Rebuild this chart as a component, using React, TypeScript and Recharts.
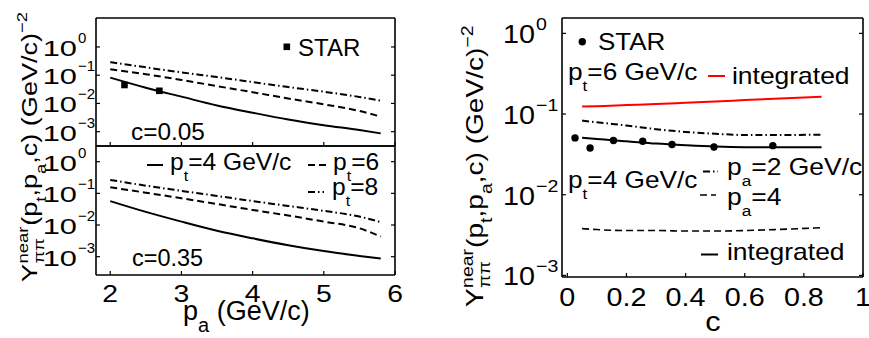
import React from "react";
import { LineChart, Line, XAxis, YAxis } from "recharts";

// Near-side pi-pi yields: two p_a panels (c = 0.05 / 0.35) and a yield vs c panel.

const PA = [2, 2.5, 3, 3.5, 4, 4.5, 5, 5.5, 5.8];
const C005_PT4 = [0.082, 0.036, 0.0174, 0.0085, 0.0047, 0.0027, 0.0017, 0.00114, 0.00087];
const C005_PT6 = [0.162, 0.108, 0.068, 0.041, 0.025, 0.015, 0.0093, 0.0054, 0.0034];
const C005_PT8 = [0.29, 0.19, 0.126, 0.086, 0.057, 0.038, 0.026, 0.017, 0.0125];
const C035_PT4 = [0.057, 0.026, 0.0128, 0.0066, 0.0038, 0.0023, 0.0015, 0.00106, 0.00087];
const C035_PT6 = [0.155, 0.105, 0.07, 0.046, 0.03, 0.02, 0.0128, 0.0079, 0.0043];
const C035_PT8 = [0.265, 0.175, 0.12, 0.083, 0.057, 0.04, 0.028, 0.0185, 0.0123];
const STAR_PA = [2.2, 2.69];
const STAR_PA_Y = [0.045, 0.028];

const C_GRID = [0.05, 0.1, 0.2, 0.3, 0.4, 0.5, 0.6, 0.7, 0.86];
const PT6_INTEGRATED = [0.124, 0.125, 0.129, 0.133, 0.138, 0.143, 0.149, 0.155, 0.164];
const PT4_PA2 = [0.083, 0.079, 0.072, 0.065, 0.06, 0.057, 0.055, 0.055, 0.0555];
const PT4_PA4 = [0.0038, 0.0037, 0.0036, 0.0036, 0.00355, 0.00355, 0.0036, 0.0037, 0.0039];
const PT4_INTEGRATED = [0.051, 0.049, 0.046, 0.043, 0.041, 0.0395, 0.0389, 0.0389, 0.0389];
const STAR_C = [0.026, 0.077, 0.156, 0.255, 0.354, 0.496, 0.695];
const STAR_C_Y = [0.0506, 0.038, 0.047, 0.046, 0.042, 0.039, 0.0406];

const PA_TICKS = [2, 3, 4, 5, 6];
const C_TICKS = [0, 0.2, 0.4, 0.6, 0.8, 1];
const C_TICK_LABELS = ["0", "0.2", "0.4", "0.6", "0.8", "1"];
const LOG_TICKS = [1, 0.1, 0.01, 0.001];

const W = 869;
const H = 338;
const FONT = '"Liberation Sans", Arial, Helvetica, sans-serif';
const TICK_LEN = 4;
const AXIS_LINE = { stroke: "#000", strokeWidth: 1.6 };
const DASH = "7 4";
const DASH_DOT = "7 3 1.5 3";

type Box = { x0: number; y0: number; x1: number; y1: number };
const BOX_A: Box = { x0: 96, y0: 18, x1: 395, y1: 146 };
const BOX_B: Box = { x0: 96, y0: 146, x1: 395, y1: 275 };
const BOX_C: Box = { x0: 562, y0: 18, x1: 863, y1: 277 };

// every axis is 1px thick, so the margin puts the plot box at page coords
const marginFor = (b: Box) => ({
  left: b.x0 - 1,
  top: b.y0 - 1,
  right: W - b.x1 - 1,
  bottom: H - b.y1 - 1,
});

const zip = (xs: number[], ys: number[]) => xs.map((x, i) => ({ x, y: ys[i] }));

const expText = (v: number) => {
  const e = Math.round(Math.log10(v));
  return e === 0 ? "0" : `\u2212${-e}`;
};

type TickProps = { x: number; y: number; payload: { value: number } };

const tickStroke = { stroke: "#000", strokeWidth: 1.2 };

const topTick = ({ x, y }: TickProps) => <line x1={x} x2={x} y1={y} y2={y + TICK_LEN} {...tickStroke} />;
const bottomTick = ({ x, y }: TickProps) => <line x1={x} x2={x} y1={y} y2={y - TICK_LEN} {...tickStroke} />;
const rightTick = ({ x, y }: TickProps) => <line x1={x} x2={x - TICK_LEN} y1={y} y2={y} {...tickStroke} />;

const paTick = ({ x, y, payload }: TickProps) => (
  <g>
    <line x1={x} x2={x} y1={y} y2={y - TICK_LEN} {...tickStroke} />
    <text transform={`translate(${x},${y + 27}) scale(1.18,1)`} textAnchor="middle" fontSize={24} fontFamily={FONT}>
      {payload.value}
    </text>
  </g>
);

const cTick = ({ x, y, payload }: TickProps) => (
  <g>
    <line x1={x} x2={x} y1={y} y2={y - TICK_LEN} {...tickStroke} />
    <text transform={`translate(${x},${y + 29}) scale(1.15,1)`} textAnchor="middle" fontSize={25} fontFamily={FONT}>
      {C_TICK_LABELS[C_TICKS.indexOf(payload.value)]}
    </text>
  </g>
);

const leftLogTick = ({ x, y, payload }: TickProps) => (
  <g>
    <line x1={x} x2={x + TICK_LEN} y1={y} y2={y} {...tickStroke} />
    <text transform={`translate(${x - 19},${y + 9}) scale(1.4,1)`} textAnchor="end" fontSize={22} fontFamily={FONT}>
      10
    </text>
    <text x={x - 18} y={y - 4} fontSize={15} fontFamily={FONT}>
      {expText(payload.value)}
    </text>
  </g>
);

const rightPanelLogTick = ({ x, y, payload }: TickProps) => (
  <g>
    <line x1={x} x2={x + TICK_LEN} y1={y} y2={y} {...tickStroke} />
    <text transform={`translate(${x - 27},${y + 10}) scale(1.15,1)`} textAnchor="end" fontSize={25} fontFamily={FONT}>
      10
    </text>
    <text transform={`translate(${x - 26},${y - 3}) scale(1.15,1)`} fontSize={17} fontFamily={FONT}>
      {expText(payload.value)}
    </text>
  </g>
);

const squareDot = ({ cx, cy, index }: any) => (
  <rect key={index} x={cx - 3.3} y={cy - 3.3} width={6.6} height={6.6} fill="#000" />
);
const roundDot = ({ cx, cy, index }: any) => <circle key={index} cx={cx} cy={cy} r={3.7} fill="#000" />;

function PaPanel({
  box,
  domain,
  pt4,
  pt6,
  pt8,
  star,
  labels,
}: {
  box: Box;
  domain: [number, number];
  pt4: number[];
  pt6: number[];
  pt8: number[];
  star?: boolean;
  labels?: boolean;
}) {
  return (
    <div style={{ position: "absolute", left: 0, top: 0 }}>
      <LineChart width={W} height={H} margin={marginFor(box)}>
        <XAxis
          type="number"
          dataKey="x"
          domain={[1.8, 6]}
          ticks={PA_TICKS}
          interval={0}
          allowDataOverflow
          height={1}
          tickSize={0}
          tickMargin={0}
          tickLine={false}
          axisLine={AXIS_LINE}
          tick={labels ? paTick : bottomTick}
        />
        <XAxis
          xAxisId="top"
          orientation="top"
          type="number"
          domain={[1.8, 6]}
          ticks={PA_TICKS}
          interval={0}
          allowDataOverflow
          height={1}
          tickSize={0}
          tickMargin={0}
          tickLine={false}
          axisLine={AXIS_LINE}
          tick={topTick}
        />
        <YAxis
          type="number"
          scale="log"
          domain={domain}
          ticks={LOG_TICKS}
          interval={0}
          allowDataOverflow
          width={1}
          tickSize={0}
          tickMargin={0}
          tickLine={false}
          axisLine={AXIS_LINE}
          tick={leftLogTick}
        />
        <YAxis
          yAxisId="right"
          orientation="right"
          type="number"
          scale="log"
          domain={domain}
          ticks={LOG_TICKS}
          interval={0}
          allowDataOverflow
          width={1}
          tickSize={0}
          tickMargin={0}
          tickLine={false}
          axisLine={AXIS_LINE}
          tick={rightTick}
        />
        <Line data={zip(PA, pt8)} dataKey="y" type="monotone" stroke="#000" strokeWidth={2} strokeDasharray={DASH_DOT} dot={false} isAnimationActive={false} />
        <Line data={zip(PA, pt6)} dataKey="y" type="monotone" stroke="#000" strokeWidth={2} strokeDasharray={DASH} dot={false} isAnimationActive={false} />
        <Line data={zip(PA, pt4)} dataKey="y" type="monotone" stroke="#000" strokeWidth={2} dot={false} isAnimationActive={false} />
        {star && (
          <Line data={zip(STAR_PA, STAR_PA_Y)} dataKey="y" stroke="none" dot={squareDot} isAnimationActive={false} />
        )}
      </LineChart>
    </div>
  );
}

function CPanel() {
  const domain: [number, number] = [9.56e-4, 1.55];
  return (
    <div style={{ position: "absolute", left: 0, top: 0 }}>
      <LineChart width={W} height={H} margin={marginFor(BOX_C)}>
        <XAxis
          type="number"
          dataKey="x"
          domain={[-0.018, 1]}
          ticks={C_TICKS}
          interval={0}
          allowDataOverflow
          height={1}
          tickSize={0}
          tickMargin={0}
          tickLine={false}
          axisLine={AXIS_LINE}
          tick={cTick}
        />
        <XAxis
          xAxisId="top"
          orientation="top"
          type="number"
          domain={[-0.018, 1]}
          ticks={C_TICKS}
          interval={0}
          allowDataOverflow
          height={1}
          tickSize={0}
          tickMargin={0}
          tickLine={false}
          axisLine={AXIS_LINE}
          tick={topTick}
        />
        <YAxis
          type="number"
          scale="log"
          domain={domain}
          ticks={LOG_TICKS}
          interval={0}
          allowDataOverflow
          width={1}
          tickSize={0}
          tickMargin={0}
          tickLine={false}
          axisLine={AXIS_LINE}
          tick={rightPanelLogTick}
        />
        <YAxis
          yAxisId="right"
          orientation="right"
          type="number"
          scale="log"
          domain={domain}
          ticks={LOG_TICKS}
          interval={0}
          allowDataOverflow
          width={1}
          tickSize={0}
          tickMargin={0}
          tickLine={false}
          axisLine={AXIS_LINE}
          tick={rightTick}
        />
        <Line data={zip(C_GRID, PT6_INTEGRATED)} dataKey="y" type="monotone" stroke="#ff0000" strokeWidth={2} dot={false} isAnimationActive={false} />
        <Line data={zip(C_GRID, PT4_PA2)} dataKey="y" type="monotone" stroke="#000" strokeWidth={2} strokeDasharray={DASH_DOT} dot={false} isAnimationActive={false} />
        <Line data={zip(C_GRID, PT4_PA4)} dataKey="y" type="monotone" stroke="#000" strokeWidth={1.6} strokeDasharray={DASH} dot={false} isAnimationActive={false} />
        <Line data={zip(C_GRID, PT4_INTEGRATED)} dataKey="y" type="monotone" stroke="#000" strokeWidth={2} dot={false} isAnimationActive={false} />
        <Line data={zip(STAR_C, STAR_C_Y)} dataKey="y" stroke="none" dot={roundDot} isAnimationActive={false} />
      </LineChart>
    </div>
  );
}

// text helper: horizontal stretch keeps the wide look of the labels
function T({
  x,
  y,
  size = 23,
  sx = 1,
  anchor = "start",
  fill = "#000",
  children,
}: {
  x: number;
  y: number;
  size?: number;
  sx?: number;
  anchor?: "start" | "middle" | "end";
  fill?: string;
  children: React.ReactNode;
}) {
  return (
    <text transform={`translate(${x},${y}) scale(${sx},1)`} fontSize={size} textAnchor={anchor} fill={fill} fontFamily={FONT}>
      {children}
    </text>
  );
}

const Sub = ({ s, size = 15, drop = 11, children }: { s?: string; size?: number; drop?: number; children: string }) => (
  <>
    <tspan fontSize={size} dy={drop}>
      {children}
    </tspan>
    <tspan dy={-drop}>{s}</tspan>
  </>
);

// rotated axis title, stretched along the text direction
function YLabel({ x, y, size, k }: { x: number; y: number; size: number; k: number }) {
  const small = Math.round(size * 0.68);
  return (
    <g transform={`translate(${x},${y}) rotate(-90) scale(${k},1)`} fontFamily={FONT}>
      <text x={0} y={0} fontSize={size}>
        Y
      </text>
      <text x={size * 0.68} y={-size * 0.42} fontSize={small}>
        near
      </text>
      <text x={size * 0.68} y={size * 0.3} fontSize={small}>
        ππ
      </text>
      <text x={size * 0.68 + small * 2.05} y={0} fontSize={size}>
        (p
        <Sub size={small} drop={size * 0.4} s=",p">
          t
        </Sub>
        <Sub size={small} drop={size * 0.4} s=",c) (GeV/c)">
          a
        </Sub>
        <tspan fontSize={small} dy={-size * 0.45}>
          −2
        </tspan>
      </text>
    </g>
  );
}

function Annotations() {
  return (
    <svg width={W} height={H} style={{ position: "absolute", left: 0, top: 0 }}>
      {/* left panels */}
      <rect x={283.5} y={43.5} width={6.6} height={6.6} fill="#000" />
      <T x={298} y={56} size={24}>
        STAR
      </T>
      <T x={131} y={140} sx={1.06}>
        c=0.05
      </T>
      <line x1={147} x2={163} y1={165} y2={165} stroke="#000" strokeWidth={2} />
      <T x={170} y={170} sx={1.07}>
        p<Sub s="=4 GeV/c">t</Sub>
      </T>
      <line x1={308} x2={328} y1={165} y2={165} stroke="#000" strokeWidth={2} strokeDasharray={DASH} />
      <T x={333} y={170} sx={1.07}>
        p<Sub s="=6">t</Sub>
      </T>
      <line x1={308} x2={324} y1={192} y2={192} stroke="#000" strokeWidth={2} strokeDasharray={DASH_DOT} />
      <T x={332} y={195} sx={1.07}>
        p<Sub s="=8">t</Sub>
      </T>
      <T x={132} y={266} sx={1.02}>
        c=0.35
      </T>
      <YLabel x={37} y={282} size={22} k={1.23} />
      <T x={183} y={320} size={27} sx={1.0}>
        p<Sub size={20} drop={12} s=" (GeV/c)">a</Sub>
      </T>

      {/* right panel */}
      <circle cx={582.3} cy={41.7} r={3.7} fill="#000" />
      <T x={598} y={50} sx={1.13}>
        STAR
      </T>
      <T x={568} y={80} sx={1.14}>
        p<Sub s="=6 GeV/c">t</Sub>
      </T>
      <line x1={708} x2={725} y1={76} y2={76} stroke="#ff0000" strokeWidth={2} />
      <T x={732} y={84} sx={1.15}>
        integrated
      </T>
      <T x={568} y={188} sx={1.14}>
        p<Sub s="=4 GeV/c">t</Sub>
      </T>
      <line x1={703} x2={718} y1={171.5} y2={171.5} stroke="#000" strokeWidth={2} strokeDasharray={DASH_DOT} />
      <T x={727} y={175} sx={1.15}>
        p<Sub s="=2 GeV/c">a</Sub>
      </T>
      <line x1={700} x2={716} y1={195} y2={195} stroke="#000" strokeWidth={1.6} strokeDasharray={DASH} />
      <T x={727} y={205} sx={1.15}>
        p<Sub s="=4">a</Sub>
      </T>
      <line x1={701} x2={718} y1={254.5} y2={254.5} stroke="#000" strokeWidth={2} />
      <T x={727} y={260} sx={1.15}>
        integrated
      </T>
      <YLabel x={483} y={307} size={23} k={1.22} />
      <T x={713} y={331} size={28} sx={1.1} anchor="middle">
        c
      </T>
    </svg>
  );
}

export default function App() {
  return (
    <div style={{ position: "absolute", left: 0, top: 0, width: W, height: H, background: "#fff", fontFamily: FONT }}>
      <PaPanel box={BOX_A} domain={[3.11e-4, 10.6]} pt4={C005_PT4} pt6={C005_PT6} pt8={C005_PT8} star />
      <PaPanel box={BOX_B} domain={[2.64e-4, 3.13]} pt4={C035_PT4} pt6={C035_PT6} pt8={C035_PT8} labels />
      <CPanel />
      <Annotations />
    </div>
  );
}
